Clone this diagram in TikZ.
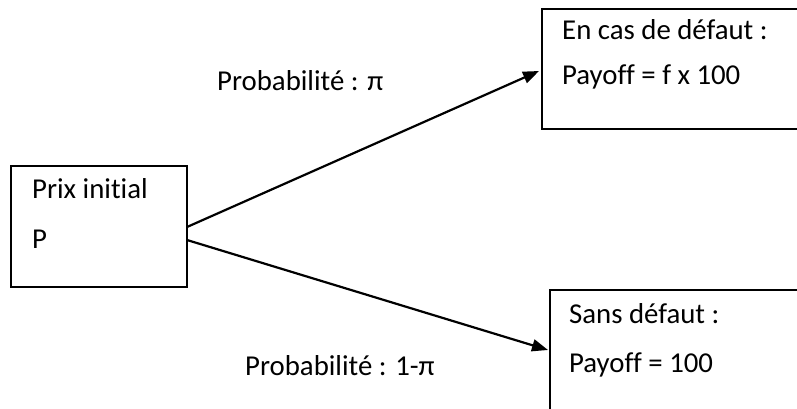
\documentclass[tikz,border=0pt]{standalone}
\usepackage{fontspec}
\setmainfont{Carlito}[Ligatures={NoCommon}]
\usetikzlibrary{arrows.meta}
\begin{document}
\begin{tikzpicture}[x=1pt,y=-1pt,
  box/.style={draw=black,line width=1.6pt,rectangle,inner sep=0pt,anchor=north west},
  txt/.style={anchor=base west,inner sep=0pt,font=\fontsize{28.8}{32}\selectfont},
  conn/.style={line width=2.2pt,-{Triangle[length=16pt,width=12pt]}}]
\useasboundingbox (0,0) rectangle (797,408);
\clip (0,0) rectangle (797,408);
\node[box,minimum width=176pt,minimum height=121pt] (init) at (10,165) {};
\node[box,minimum width=270pt,minimum height=120pt] (def) at (541,8) {};
\node[box,minimum width=270pt,minimum height=140pt] (sans) at (549,289) {};
\node[txt] (t1) at (32,198) {Prix initial};
\node[txt] (t2) at (32,248) {P};
\node[txt] (t3) at (562,39) {En cas de défaut :};
\node[txt] (t4) at (562,84) {Payoff = f x 100};
\node[txt] (t5) at (569,323) {Sans défaut :};
\node[txt] (t6) at (569,372) {Payoff = 100};
\node[txt] (p1) at (217,90) {Probabilité : π};
\node[txt] (p2) at (245,375) {Probabilité : 1-π};
\coordinate (a1) at (187,227);
\coordinate (a2) at (187,240);
\coordinate (b1) at (539,71);
\coordinate (b2) at (548,350);
\draw[conn] (a1) -- (b1);
\draw[conn] (a2) -- (b2);
\end{tikzpicture}
\end{document}
